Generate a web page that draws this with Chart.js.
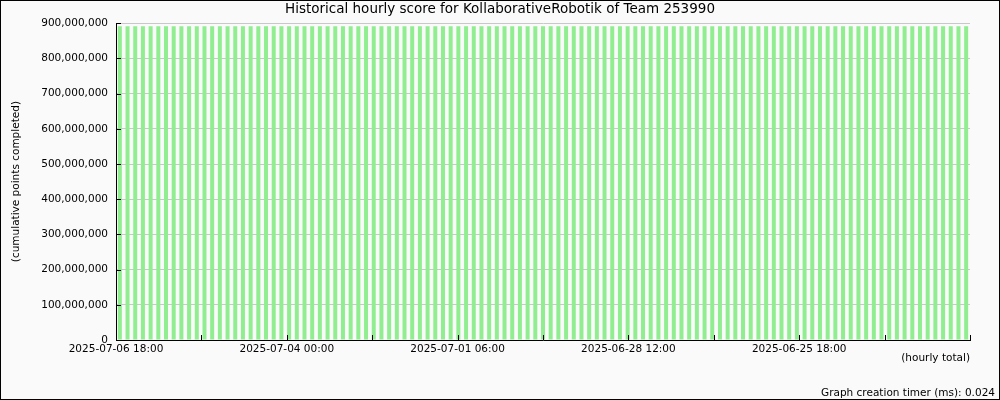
<!DOCTYPE html>
<html>
<head>
<meta charset="utf-8">
<title>Historical hourly score</title>
<script src="https://cdn.jsdelivr.net/npm/chart.js@4.4.1/dist/chart.umd.min.js"></script>
<style>
  html, body { margin: 0; padding: 0; background: #fafafa; }
  #wrap { width: 1000px; height: 400px; }
</style>
</head>
<body>
<div id="wrap"><canvas id="chart"></canvas></div>
<script>
const chartTitle = "Historical hourly score for KollaborativeRobotik of Team 253990";
const yAxisTitle = "(cumulative points completed)";
const xAxisTitle = "(hourly total)";
const timerNote = "Graph creation timer (ms): 0.024";

// one bar per sample, newest on the left (all read as ~891M)
const hourlyScores = [
  891000000, 891000000, 891000000, 891000000, 891000000, 891000000, 891000000, 891000000, 891000000, 891000000,
  891000000, 891000000, 891000000, 891000000, 891000000, 891000000, 891000000, 891000000, 891000000, 891000000,
  891000000, 891000000, 891000000, 891000000, 891000000, 891000000, 891000000, 891000000, 891000000, 891000000,
  891000000, 891000000, 891000000, 891000000, 891000000, 891000000, 891000000, 891000000, 891000000, 891000000,
  891000000, 891000000, 891000000, 891000000, 891000000, 891000000, 891000000, 891000000, 891000000, 891000000,
  891000000, 891000000, 891000000, 891000000, 891000000, 891000000, 891000000, 891000000, 891000000, 891000000,
  891000000, 891000000, 891000000, 891000000, 891000000, 891000000, 891000000, 891000000, 891000000, 891000000,
  891000000, 891000000, 891000000, 891000000, 891000000, 891000000, 891000000, 891000000, 891000000, 891000000,
  891000000, 891000000, 891000000, 891000000, 891000000, 891000000, 891000000, 891000000, 891000000, 891000000,
  891000000, 891000000, 891000000, 891000000, 891000000, 891000000, 891000000, 891000000, 891000000, 891000000,
  891000000, 891000000, 891000000, 891000000, 891000000, 891000000, 891000000, 891000000, 891000000, 891000000,
  891000000
];

// bottom time axis: evenly spaced ticks (33h apart), labels on every other one
const timeTickLabels = [
  "2025-07-06 18:00", "", "2025-07-04 00:00", "", "2025-07-01 06:00", "",
  "2025-06-28 12:00", "", "2025-06-25 18:00", "", ""
];

const yMax = 900000000;
const yStep = 100000000;

Chart.defaults.font.family = "'DejaVu Sans', sans-serif";
Chart.defaults.font.size = 10.5;
Chart.defaults.color = "#000";

// page background, outer frame and the timer note
const framePlugin = {
  id: "frame",
  beforeDraw(chart) {
    const ctx = chart.ctx;
    ctx.save();
    ctx.fillStyle = "#fafafa";
    ctx.fillRect(0, 0, chart.width, chart.height);
    ctx.restore();
  },
  afterDraw(chart) {
    const ctx = chart.ctx;
    ctx.save();
    ctx.strokeStyle = "#000";
    ctx.lineWidth = 1;
    ctx.strokeRect(0.5, 0.5, chart.width - 1, chart.height - 1);
    ctx.fillStyle = "#000";
    ctx.font = "10.5px 'DejaVu Sans'";
    ctx.textAlign = "right";
    ctx.textBaseline = "alphabetic";
    ctx.fillText(timerNote, chart.width - 5, chart.height - 4);
    ctx.restore();
  }
};

// short tick marks pointing into the plot
const innerTicksPlugin = {
  id: "innerTicks",
  afterDatasetsDraw(chart) {
    const ctx = chart.ctx;
    const xs = chart.scales.time;
    const ys = chart.scales.y;
    const len = 5;
    ctx.save();
    ctx.strokeStyle = "#000";
    ctx.lineWidth = 1;
    ctx.beginPath();
    timeTickLabels.forEach((_, i) => {
      const px = Math.round(xs.getPixelForValue(i)) + 0.5;
      ctx.moveTo(px, ys.bottom);
      ctx.lineTo(px, ys.bottom - len);
    });
    ys.ticks.forEach(t => {
      const py = Math.round(ys.getPixelForValue(t.value)) + 0.5;
      ctx.moveTo(xs.left, py);
      ctx.lineTo(xs.left + len, py);
    });
    ctx.stroke();
    ctx.restore();
  }
};

new Chart(document.getElementById("chart"), {
  type: "bar",
  data: {
    labels: hourlyScores.map((_, i) => i),
    datasets: [{
      data: hourlyScores,
      backgroundColor: "#90ee90",
      borderWidth: 0,
      barPercentage: 0.52,
      categoryPercentage: 1.0,
      xAxisID: "x",
      yAxisID: "y"
    }]
  },
  options: {
    responsive: true,
    maintainAspectRatio: false,
    animation: false,
    layout: { padding: 0 },
    plugins: {
      legend: { display: false },
      tooltip: { enabled: false },
      title: {
        display: true,
        text: chartTitle,
        color: "#000",
        font: { size: 13.5, weight: "normal" },
        padding: { top: 1, bottom: 6 }
      }
    },
    scales: {
      x: {
        type: "category",
        display: false,
        offset: true
      },
      time: {
        type: "category",
        axis: "x",
        position: "bottom",
        labels: timeTickLabels,
        offset: false,
        grid: { display: true, offset: false, color: "rgba(0,0,0,0)", drawTicks: false },
        border: { display: true, color: "#000", width: 1 },
        ticks: {
          autoSkip: false,
          maxRotation: 0,
          minRotation: 0,
          padding: 3
        },
        title: {
          display: true,
          text: xAxisTitle,
          align: "end",
          color: "#000",
          padding: { top: 0, bottom: 35 }
        },
        afterFit(scale) { scale.height = 60; }
      },
      y: {
        min: 0,
        max: yMax,
        grid: { color: "#c8c8c8", drawTicks: false },
        border: { display: true, color: "#000", width: 1 },
        ticks: {
          stepSize: yStep,
          padding: 8,
          callback: v => v.toLocaleString("en-US")
        },
        title: {
          display: true,
          text: yAxisTitle,
          color: "#000",
          padding: { top: 10, bottom: 0 }
        },
        afterFit(scale) { scale.width = 116; }
      },
      // empty right margin so the plot stops at the same place as the original
      rightGap: {
        type: "linear",
        axis: "y",
        position: "right",
        grid: { display: false, drawTicks: false },
        border: { display: false },
        ticks: { display: false },
        afterFit(scale) { scale.width = 30; }
      }
    }
  },
  plugins: [framePlugin, innerTicksPlugin]
});
</script>
</body>
</html>
